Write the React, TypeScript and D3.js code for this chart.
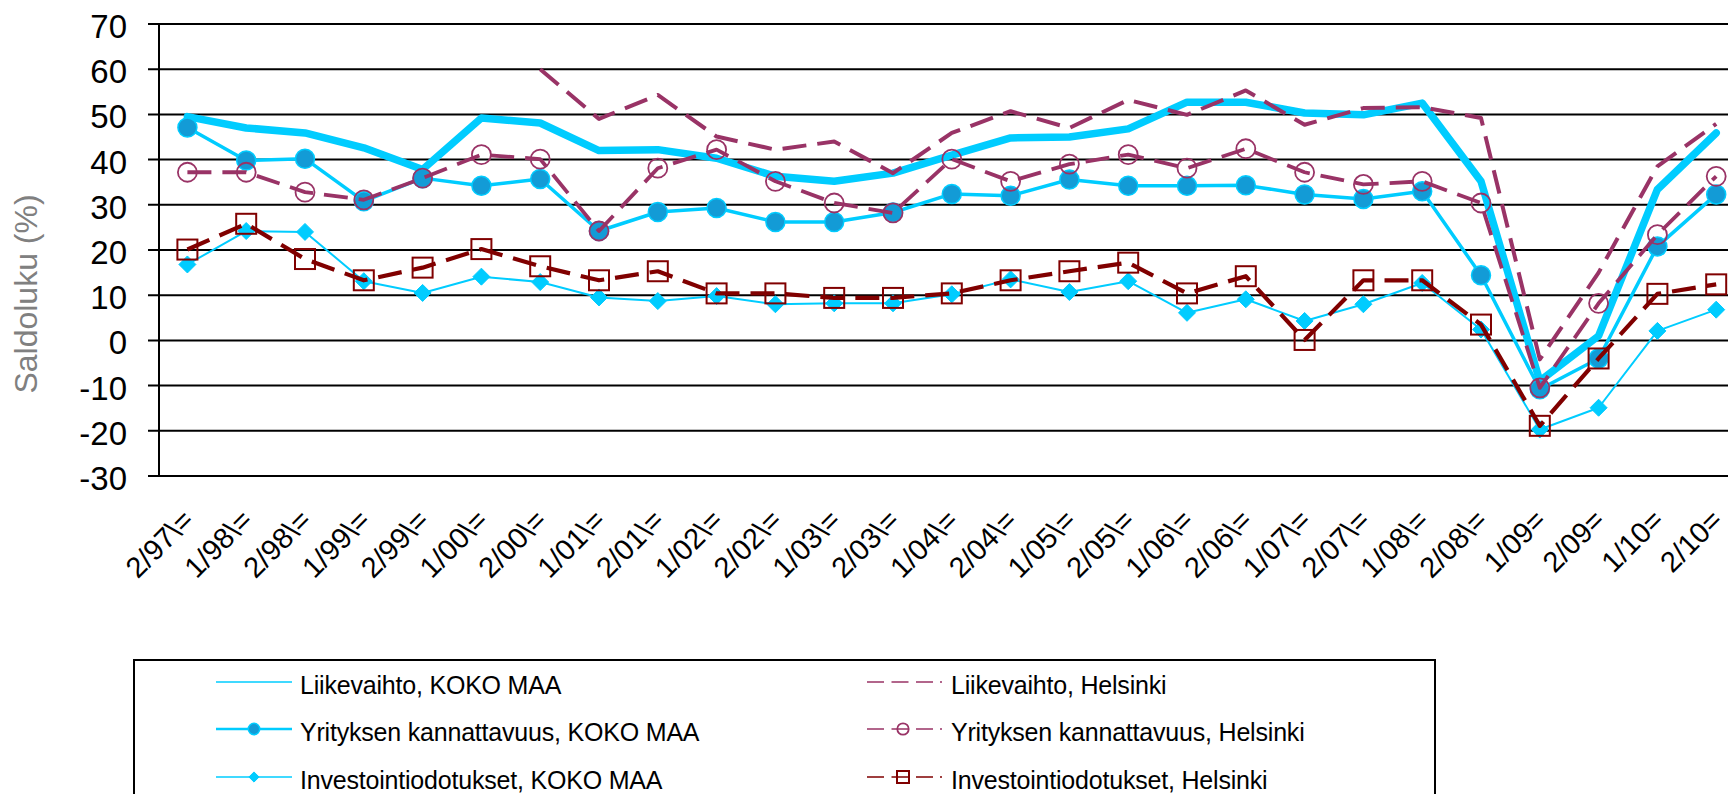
import React from 'react';
import * as d3 from 'd3';

const categories = [
  "2/97\\=", "1/98\\=", "2/98\\=", "1/99\\=", "2/99\\=", "1/00\\=", "2/00\\=",
  "1/01\\=", "2/01\\=", "1/02\\=", "2/02\\=", "1/03\\=", "2/03\\=", "1/04\\=",
  "2/04\\=", "1/05\\=", "2/05\\=", "1/06\\=", "2/06\\=", "1/07\\=", "2/07\\=",
  "1/08\\=", "2/08\\=", "1/09=", "2/09=", "1/10=", "2/10="
];

const liikevaihtoKoko = [49.5, 47, 45.9, 42.6, 37.8, 49.2, 48.1, 42, 42.2, 40.3, 36.3, 35.2, 37, 41, 44.8, 45, 46.8, 52.7, 52.7, 50.3, 49.9, 52.5, 35.2, -9, 1, 33.4, 45.9];
const kannattavuusKoko = [47.1, 39.8, 40.2, 30.8, 35.9, 34.2, 35.7, 24.2, 28.4, 29.3, 26.2, 26.2, 28.3, 32.4, 32, 35.6, 34.2, 34.2, 34.3, 32.3, 31.3, 33, 14.4, -10.8, -4, 20.8, 32.3];
const investKoko = [16.8, 24.2, 24, 13.1, 10.5, 14.1, 12.9, 9.5, 8.7, 9.8, 8, 8.2, 8.2, 10.2, 13.5, 10.7, 13.1, 6.1, 9.1, 4.3, 8, 12.7, 2.4, -19.7, -14.9, 2.1, 6.8];
const liikevaihtoHki = [null, null, null, null, null, null, 60, 49, 54.3, 45.1, 42.2, 44, 37, 45.9, 50.7, 47, 53.2, 49.9, 55.3, 47.7, 51.4, 51.6, 49.2, -4.2, 15, 38.5, 47.9];
const kannattavuusHki = [37.2, 37.2, 32.8, 31.1, 35.9, 41.1, 40.1, 24.2, 38.1, 42.2, 35.2, 30.4, 28.2, 40.1, 35.2, 39, 41.1, 38.1, 42.4, 37.2, 34.5, 35.2, 30.4, -10.5, 8.2, 23.4, 36.3];
const investHki = [20.1, 25.8, 18, 13.3, 16.1, 20.2, 16.4, 13.3, 15.3, 10.4, 10.4, 9.4, 9.4, 10.4, 13.3, 15.3, 17.2, 10.4, 14.2, 0.1, 13.3, 13.3, 3.5, -18.9, -4, 10.3, 12.4];

const yTicks = [70, 60, 50, 40, 30, 20, 10, 0, -10, -20, -30];
const yTitle = "Saldoluku (%)";
const seriesNames = [
  "Liikevaihto, KOKO MAA",
  "Yrityksen kannattavuus, KOKO MAA",
  "Investointiodotukset, KOKO MAA",
  "Liikevaihto, Helsinki",
  "Yrityksen kannattavuus, Helsinki",
  "Investointiodotukset, Helsinki",
];

const CYAN = "#00CCFF";
const BLUE = "#139BD6";
const PURPLE = "#993366";
const DARKRED = "#800000";
const FONT = "'Liberation Sans', Arial, sans-serif";

type Series = {
  name: string;
  values: (number | null)[];
  color: string;
  width: number;
  dash?: string;
  marker?: 'circleFilled' | 'diamond' | 'circleOpen' | 'square';
  legendWidth: number;
};

const series: Series[] = [
  { name: seriesNames[0], values: liikevaihtoKoko, color: CYAN, width: 7.5, legendWidth: 1.6 },
  { name: seriesNames[1], values: kannattavuusKoko, color: CYAN, width: 3.5, marker: 'circleFilled', legendWidth: 2.4 },
  { name: seriesNames[2], values: investKoko, color: CYAN, width: 2, marker: 'diamond', legendWidth: 1.7 },
  { name: seriesNames[3], values: liikevaihtoHki, color: PURPLE, width: 4, dash: "24,11", legendWidth: 1.5 },
  { name: seriesNames[4], values: kannattavuusHki, color: PURPLE, width: 3.8, dash: "24,11", marker: 'circleOpen', legendWidth: 1.5 },
  { name: seriesNames[5], values: investHki, color: DARKRED, width: 4.2, dash: "24,11", marker: 'square', legendWidth: 1.5 },
];

const W = 1728;
const H = 794;
const plotLeft = 158;
const band = 58.8;

function Marker({ type, x, y, color, scale = 1 }: { type: string; x: number; y: number; color: string; scale?: number }) {
  if (type === 'circleFilled') {
    return <circle cx={x} cy={y} r={9.5 * scale} fill={BLUE} stroke={CYAN} strokeWidth={1.5} />;
  }
  if (type === 'circleOpen') {
    return <circle cx={x} cy={y} r={9.5 * scale} fill="none" stroke={color} strokeWidth={1.8} />;
  }
  if (type === 'square') {
    const s = 10 * scale;
    return <rect x={x - s} y={y - s} width={2 * s} height={2 * s} fill="none" stroke={color} strokeWidth={2} />;
  }
  if (type === 'diamond') {
    const s = 8.5 * scale;
    return <path d={`M${x},${y - s}L${x + s},${y}L${x},${y + s}L${x - s},${y}Z`} fill={CYAN} stroke={CYAN} strokeWidth={1} />;
  }
  return null;
}

export default function App() {
  const x = d3.scaleBand<string>().domain(categories).range([plotLeft, plotLeft + band * categories.length]).padding(0);
  const cx = (c: string) => (x(c) as number) + x.bandwidth() / 2;
  const y = d3.scaleLinear().domain([-30, 70]).range([476, 24]);

  const line = d3.line<number | null>()
    .defined(d => d !== null)
    .x((_, i) => cx(categories[i]))
    .y(d => y(d as number));

  const axisBottom = y(-30);

  const legendRows = [682, 729, 777];
  const legendCols = [
    { x0: 216, x1: 292, tx: 300 },
    { x0: 867, x1: 934, tx: 951 },
  ];

  return (
    <svg width={W} height={H} style={{ position: 'absolute', left: 0, top: 0, display: 'block', background: '#fff' }}
      fontFamily={FONT}>
      {yTicks.map(t => (
        <line key={t} x1={148} x2={W} y1={y(t)} y2={y(t)} stroke="#000" strokeWidth={2} />
      ))}
      <line x1={plotLeft + 1} x2={plotLeft + 1} y1={y(70)} y2={y(-30)} stroke="#000" strokeWidth={2} />
      {yTicks.map(t => (
        <text key={t} x={127} y={y(t) + 14} fontSize={33} textAnchor="end" fill="#000">{t}</text>
      ))}
      <text transform={`translate(37,294) rotate(-90)`} fontSize={32} textAnchor="middle" fill="#808080">{yTitle}</text>

      {categories.map(c => (
        <text key={c} transform={`translate(${cx(c) + 8},${axisBottom + 46}) rotate(-45)`} fontSize={29} textAnchor="end" fill="#000">{c}</text>
      ))}

      {series.map((s, si) => (
        <g key={si}>
          <path d={line(s.values) || ''} fill="none" stroke={s.color} strokeWidth={s.width}
            strokeDasharray={s.dash} strokeLinejoin="round" strokeLinecap={s.dash ? 'butt' : 'round'} />
          {s.marker && s.values.map((v, i) => v === null ? null : (
            <Marker key={i} type={s.marker as string} x={cx(categories[i])} y={y(v)} color={s.color} />
          ))}
        </g>
      ))}

      <rect x={134} y={660} width={1301} height={200} fill="none" stroke="#000" strokeWidth={2} />
      {series.map((s, si) => {
        const col = legendCols[si < 3 ? 0 : 1];
        const ry = legendRows[si % 3];
        const mid = si < 3 ? (col.x0 + col.x1) / 2 : 903;
        return (
          <g key={si}>
            {s.dash ? (
              <>
                <line x1={col.x0} x2={col.x1} y1={ry} y2={ry} stroke={s.color} strokeWidth={s.legendWidth} strokeDasharray="17,7.5" />
                <line x1={940} x2={942} y1={ry} y2={ry} stroke={s.color} strokeWidth={s.legendWidth} />
              </>
            ) : (
              <line x1={col.x0} x2={col.x1} y1={ry} y2={ry} stroke={s.color} strokeWidth={s.legendWidth} />
            )}
            {s.marker && <Marker type={s.marker} x={mid} y={ry} color={s.color} scale={0.6} />}
            <text x={col.tx} y={ry + 11.5} fontSize={25} letterSpacing={-0.2} fill="#000">{s.name}</text>
          </g>
        );
      })}
    </svg>
  );
}
